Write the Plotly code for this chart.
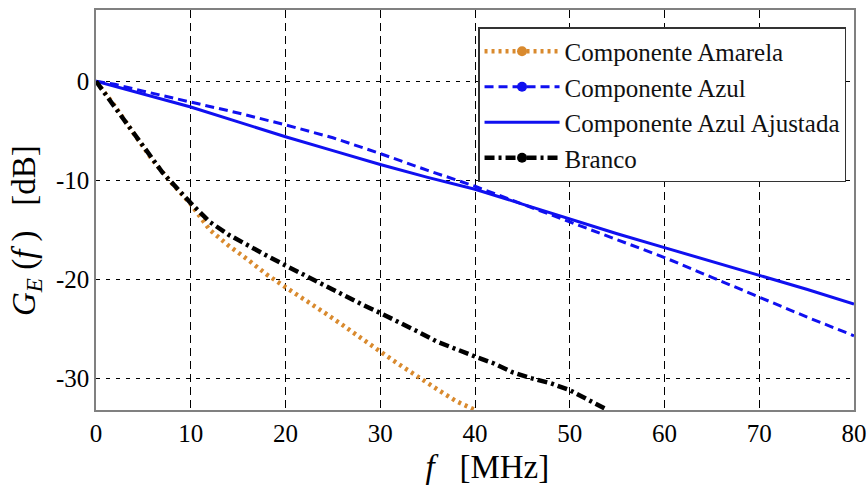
import plotly.graph_objects as go

# ---- data ----
f_amarela = [0, 2, 4, 6, 8, 10, 12, 14, 16, 18, 20, 22, 24, 26, 28, 30, 32, 34, 36, 38, 40]
g_amarela = [0, -2.5, -5.3, -8.0, -10.3, -12.4, -15.0, -16.6, -18.0, -19.5, -20.8, -22.0,
             -23.3, -24.6, -26.0, -27.3, -28.6, -29.9, -31.1, -32.3, -33.2]

f_azul = [0, 2, 5, 10, 15, 20, 25, 30, 35, 40, 45, 50, 55, 60, 65, 70, 75, 80]
g_azul = [0, -0.3, -1.0, -2.1, -3.2, -4.4, -5.7, -7.3, -9.0, -10.6, -12.4, -14.2,
          -16.0, -17.8, -19.8, -21.8, -23.8, -25.7]

f_ajust = [0, 5, 10, 15, 20, 25, 30, 35, 40, 45, 50, 55, 60, 65, 70, 75, 80]
g_ajust = [0, -1.3, -2.6, -4.1, -5.6, -7.0, -8.4, -9.7, -10.9, -12.4, -13.9, -15.4,
           -16.8, -18.2, -19.6, -21.0, -22.5]

f_branco = [0, 1, 3, 5, 7, 10, 12, 14, 16, 18, 20, 22, 24, 26, 28, 30, 32, 34, 36, 38,
            40, 42, 44, 46, 48, 50, 52, 54]
g_branco = [0, -1.3, -4.0, -6.6, -9.2, -12.3, -14.2, -15.5, -16.6, -17.6, -18.6, -19.6,
            -20.6, -21.5, -22.5, -23.4, -24.3, -25.3, -26.3, -27.1, -27.8, -28.5, -29.4,
            -30.0, -30.5, -31.2, -32.2, -33.2]

x_ticks = [0, 10, 20, 30, 40, 50, 60, 70, 80]
x_ticktext = ["0", "10", "20", "30", "40", "50", "60", "70", "80"]
y_ticks = [-30, -20, -10, 0]
y_ticktext = ["-30", "-20", "-10", "0"]

names = ["Componente Amarela", "Componente Azul", "Componente Azul Ajustada", "Branco"]

ORANGE = "#D98A2E"
BLUE = "#1010F0"
BLACK = "#000000"
SERIF = "Liberation Serif, Times New Roman, serif"

fig = go.Figure()

series = [
    (f_amarela, g_amarela, ORANGE, "3px,4px", 4.5, True),
    (f_azul, g_azul, BLUE, "9px,5px", 3, True),
    (f_ajust, g_ajust, BLUE, "solid", 3, False),
    (f_branco, g_branco, BLACK, "10px,4px,3px,4px", 4.5, True),
]

for (xs, ys, col, dash, w, mk), nm in zip(series, names):
    fig.add_trace(go.Scatter(x=xs, y=ys, mode="lines", showlegend=False,
                             line=dict(color=col, width=w, dash=dash), hoverinfo="skip"))

for i, ((xs, ys, col, dash, w, mk), nm) in enumerate(zip(series, names)):
    fig.add_trace(go.Scatter(x=[None], y=[None], name=nm,
                             mode="lines+markers" if mk else "lines",
                             legendgroup="g%d" % i,
                             line=dict(color=col, width=w, dash=dash),
                             marker=dict(color=col, size=10)))

fig.update_layout(
    width=868, height=485,
    margin=dict(l=96, r=14, t=10, b=75),
    paper_bgcolor="white", plot_bgcolor="white",
    font=dict(family=SERIF, color="black", size=24),
    legend=dict(x=0.504, y=0.9575, xanchor="left", yanchor="top",
                bgcolor="white", bordercolor="#333333", borderwidth=1.5,
                font=dict(family=SERIF, size=25, color="#111111"),
                itemwidth=75, tracegroupgap=0),
    xaxis=dict(range=[0, 80], tickvals=x_ticks, ticktext=x_ticktext, automargin=False,
               showgrid=True, gridcolor="black", gridwidth=1, griddash="8px,5px",
               zeroline=False, showline=True, mirror=True, linecolor="#808080", linewidth=1.5,
               ticks="", tickfont=dict(size=25),
               title=dict(text="&nbsp;&nbsp;&nbsp;<i>f</i>&nbsp;&nbsp;&nbsp;[MHz]",
                          font=dict(size=33), standoff=12)),
    yaxis=dict(range=[-33.2, 7.2], tickvals=y_ticks, ticktext=y_ticktext, automargin=False,
               showgrid=True, gridcolor="black", gridwidth=1, griddash="4px,6px",
               zeroline=False, showline=True, mirror=True, linecolor="#808080", linewidth=1.5,
               ticks="", tickfont=dict(size=25),
               title=dict(text="<i>G</i><sub><i>E</i></sub> (<i>f</i> )&nbsp;&nbsp; [dB]"
                               "&nbsp;&nbsp;&nbsp;&nbsp;&nbsp;",
                          font=dict(size=33), standoff=10)),
)

fig.write_html("out.html")
